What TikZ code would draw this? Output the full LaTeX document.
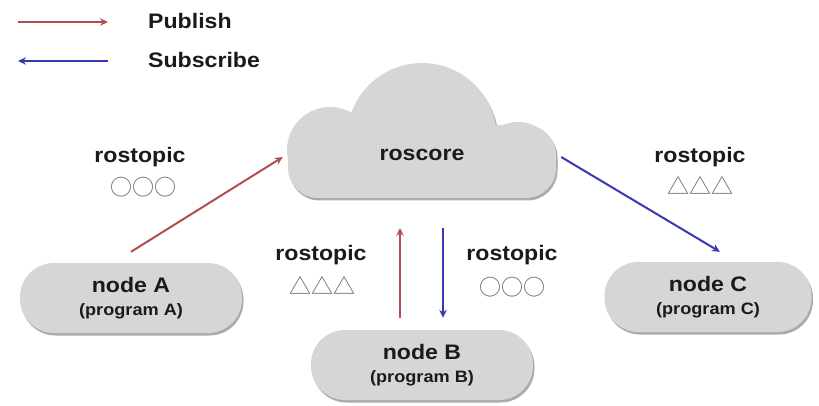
\documentclass[tikz,border=0pt]{standalone}
\usepackage{fontspec}
\setmainfont[FakeStretch=1.1]{Liberation Sans}
\newfontfamily\jpfont{Noto Sans CJK JP}
\usetikzlibrary{arrows.meta,shadows}
\definecolor{pubred}{HTML}{B34E50}
\definecolor{subblue}{HTML}{3838B0}
\definecolor{boxgray}{HTML}{D6D6D6}
\definecolor{shadowgray}{HTML}{ABABAB}
\definecolor{txt}{HTML}{1A1A1A}
\definecolor{symgray}{HTML}{6A6A6A}
\newcommand\rkCloud[1]{%
  \begin{scope}
    \clip (250,40) rectangle (600,190);
    \fill[#1] (330,150) circle (43);
    \fill[#1] (422,138) circle (75);
    \fill[#1] (518,160) circle (38);
  \end{scope}
  \fill[#1, rounded corners=30] (288,125) rectangle (556,198);}
\tikzset{
  nodebox/.style={fill=boxgray, rounded corners=34pt, minimum width=222pt, minimum height=70pt,
    align=center, text=txt, inner sep=0pt, font=\bfseries\fontsize{21}{24}\selectfont,
    drop shadow={shadow xshift=1.5pt, shadow yshift=-2.5pt, fill=shadowgray, opacity=1}},
  lbl/.style={text=txt, font=\bfseries\fontsize{21}{24}\selectfont, inner sep=0pt},
  sym/.style={text=symgray, font=\jpfont\fontsize{22}{24}\selectfont, inner sep=0pt},
  pubarrow/.style={draw=pubred, line width=2pt, -{Stealth[length=8pt,width=7.5pt]}},
  subarrow/.style={draw=subblue, line width=2pt, -{Stealth[length=8pt,width=7.5pt]}},
}
\newcommand\rkTwo[2]{#1\\[-1pt]{\fontsize{16.5}{24}\selectfont\bfseries #2}}
\begin{document}
\begin{tikzpicture}[x=1pt,y=-1pt]
\useasboundingbox (0,0) rectangle (819,406);
% legend
\coordinate (pubS) at (18,22);
\coordinate (pubE) at (108,22);
\coordinate (subS) at (108,61);
\coordinate (subE) at (18,61);
\draw[pubarrow] (pubS) -- (pubE);
\draw[subarrow] (subS) -- (subE);
\node[lbl, anchor=base west] (legP) at (148,29) {Publish};
\node[lbl, anchor=base west] (legS) at (148,68) {Subscribe};
% cloud
\begin{scope}[shift={(1.5,2.5)}]\rkCloud{shadowgray}\end{scope}
\rkCloud{boxgray}
\node[lbl, minimum width=268pt, minimum height=20pt] (core) at (422,155) {roscore};
% nodes
\node[nodebox] (A) at (131,298) {\rkTwo{node A}{(program A)}};
\node[nodebox] (B) at (422,365) {\rkTwo{node B}{(program B)}};
\node[nodebox, minimum width=207pt] (C) at (708,297) {\rkTwo{node C}{(program C)}};
% arrows
\draw[pubarrow] ([yshift=11pt]A.north) -- ([xshift=-5pt,yshift=-2pt]core.west);
\draw[subarrow] ([xshift=5pt,yshift=-2pt]core.east) -- ([xshift=12pt,yshift=10pt]C.north);
\coordinate (bUpS) at ([xshift=-22pt,yshift=12pt]B.north);
\coordinate (bUpE) at (400,228);
\coordinate (bDnS) at (443,228);
\coordinate (bDnE) at ([xshift=21pt,yshift=12pt]B.north);
\draw[pubarrow] (bUpS) -- (bUpE);
\draw[subarrow] (bDnS) -- (bDnE);
% labels
\node[lbl] (t1) at (140,157) {rostopic};
\node[sym] (s1) at (143,187) {○○○};
\node[lbl] (t2) at (700,157) {rostopic};
\node[sym] (s2) at (700,185) {△△△};
\node[lbl] (t3) at (321,255) {rostopic};
\node[sym] (s3) at (322,285) {△△△};
\node[lbl] (t4) at (512,255) {rostopic};
\node[sym] (s4) at (512,287) {○○○};
\end{tikzpicture}
\end{document}
